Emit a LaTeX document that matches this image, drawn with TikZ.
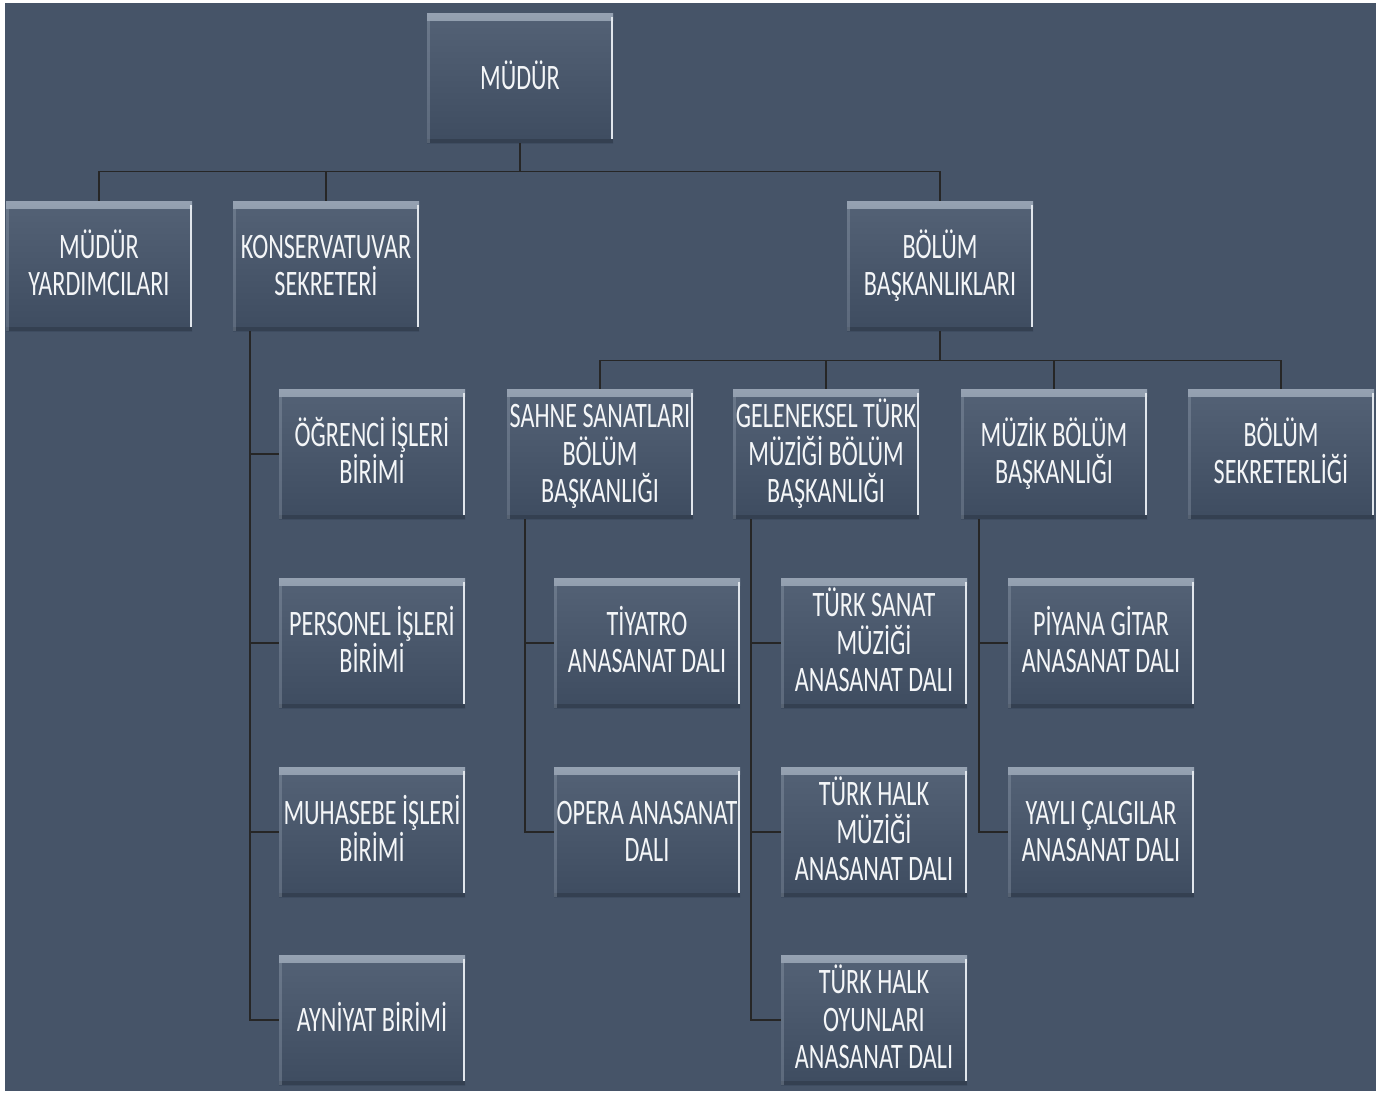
\documentclass[tikz,border=0pt]{standalone}
\usepackage{array}
\usepackage{fontspec}
\setmainfont{Carlito}[FakeStretch=0.675]
\definecolor{bgc}{RGB}{70,84,104}
\definecolor{boxtop}{RGB}{84,98,118}
\definecolor{boxbot}{RGB}{62,76,96}
\definecolor{hilite}{RGB}{150,162,178}
\definecolor{edgec}{RGB}{225,230,236}
\definecolor{txt}{RGB}{244,246,248}
\newcommand\T[1]{{\renewcommand\arraystretch{0}%
  \begin{tabular}{@{}>{\rule[-7.6pt]{0pt}{37.5pt}}c@{}}#1\end{tabular}}}
\tikzset{
  unit/.style={minimum width=186pt, minimum height=130pt, inner sep=0pt,
    top color=boxtop, bottom color=boxbot, draw=none,
    text=txt,
    font=\fontsize{35.8}{37.5}\selectfont,
    path picture={
      \shade[top color=hilite, bottom color=boxtop]
        (path picture bounding box.north west) rectangle ([yshift=-7pt]path picture bounding box.north east);
      \fill[boxbot!70!black, opacity=0.5]
        (path picture bounding box.south west) rectangle ([yshift=4pt]path picture bounding box.south east);
      \fill[hilite, opacity=0.35]
        (path picture bounding box.north west) rectangle ([xshift=3pt]path picture bounding box.south west);
      \fill[edgec]
        ([xshift=-2.5pt,yshift=-4pt]path picture bounding box.north east) rectangle ([yshift=4pt]path picture bounding box.south east);
    }},
  link/.style={draw=black!85, line width=1.4pt}
}
\begin{document}
\begin{tikzpicture}[x=1pt,y=-1pt]
\fill[white] (0,0) rectangle (1387,1093);
\fill[bgc] (5,3) rectangle (1376,1091);
\useasboundingbox (0,0) rectangle (1387,1093);

\node[unit] (mudur) at (520,78) {\T{MÜDÜR}};

\node[unit] (myard) at (99,266) {\T{MÜDÜR\\YARDIMCILARI}};
\node[unit] (konssek) at (326,266) {\T{KONSERVATUVAR\\SEKRETERİ}};
\node[unit] (bolbas) at (940,266) {\T{BÖLÜM\\BAŞKANLIKLARI}};

\node[unit] (ogr) at (372,454) {\T{ÖĞRENCİ İŞLERİ\\BİRİMİ}};
\node[unit] (pers) at (372,643) {\T{PERSONEL İŞLERİ\\BİRİMİ}};
\node[unit] (muh) at (372,832) {\T{MUHASEBE İŞLERİ\\BİRİMİ}};
\node[unit] (ayn) at (372,1020) {\T{AYNİYAT BİRİMİ}};

\node[unit] (sahne) at (600,454) {\T{SAHNE SANATLARI\\BÖLÜM\\BAŞKANLIĞI}};
\node[unit] (gtm) at (826,454) {\T{GELENEKSEL TÜRK\\MÜZİĞİ BÖLÜM\\BAŞKANLIĞI}};
\node[unit] (muzik) at (1054,454) {\T{MÜZİK BÖLÜM\\BAŞKANLIĞI}};
\node[unit] (bsek) at (1281,454) {\T{BÖLÜM\\SEKRETERLİĞİ}};

\node[unit] (tiy) at (647,643) {\T{TİYATRO\\ANASANAT DALI}};
\node[unit] (opera) at (647,832) {\T{OPERA ANASANAT\\DALI}};

\node[unit] (tsm) at (874,643) {\T{TÜRK SANAT\\MÜZİĞİ\\ANASANAT DALI}};
\node[unit] (thm) at (874,832) {\T{TÜRK HALK\\MÜZİĞİ\\ANASANAT DALI}};
\node[unit] (tho) at (874,1020) {\T{TÜRK HALK\\OYUNLARI\\ANASANAT DALI}};

\node[unit] (piy) at (1101,643) {\T{PİYANA GİTAR\\ANASANAT DALI}};
\node[unit] (yay) at (1101,832) {\T{YAYLI ÇALGILAR\\ANASANAT DALI}};

% connectors
\foreach \c in {myard,konssek,bolbas}
  \draw[link] (mudur.south) -- ++(0,28) -| (\c.north);
\foreach \c in {ogr,pers,muh,ayn}
  \draw[link] ([xshift=17pt]konssek.south west) |- (\c.west);
\foreach \c in {sahne,gtm,muzik,bsek}
  \draw[link] (bolbas.south) -- ++(0,29) -| (\c.north);
\foreach \c in {tiy,opera}
  \draw[link] ([xshift=18pt]sahne.south west) |- (\c.west);
\foreach \c in {tsm,thm,tho}
  \draw[link] ([xshift=18pt]gtm.south west) |- (\c.west);
\foreach \c in {piy,yay}
  \draw[link] ([xshift=18pt]muzik.south west) |- (\c.west);
\end{tikzpicture}
\end{document}
